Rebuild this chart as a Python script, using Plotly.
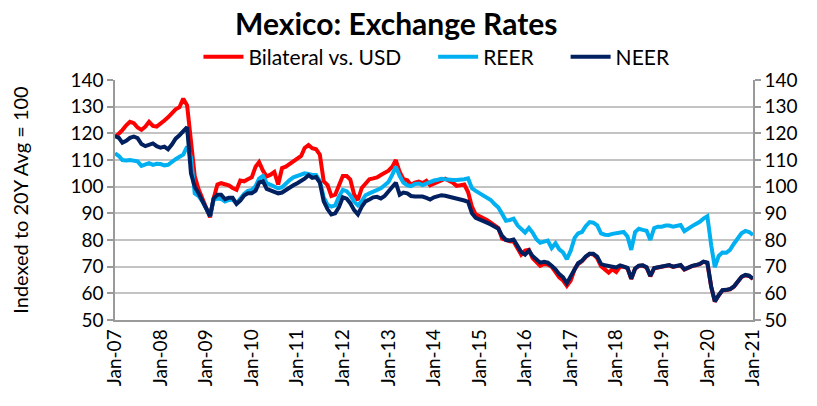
import pandas as pd
import plotly.graph_objects as go

# Monthly index levels, Jan-2007 .. Jan-2021 (20-year average = 100)
months = pd.date_range("2007-01-01", "2021-01-01", freq="MS")

bilateral_usd = [
    118.5, 119.8, 121.2, 123.0, 124.3, 123.8, 122.2, 121.3, 122.5, 124.3, 122.8, 122.5,   # 2007
    123.5, 124.8, 126.0, 127.5, 129.0, 129.8, 133.0, 130.5, 117.0, 104.0, 99.0, 95.5,     # 2008
    91.5, 88.5, 95.5, 100.8, 101.3, 101.0, 100.5, 99.5, 98.8, 102.3, 102.0, 102.8,        # 2009
    103.5, 107.5, 109.2, 106.0, 103.8, 104.5, 105.5, 100.8, 107.0, 107.5, 108.5, 109.5,   # 2010
    110.3, 111.5, 114.5, 115.6, 114.4, 114.0, 112.0, 102.0, 100.6, 96.5, 97.0, 101.0,     # 2011
    104.0, 104.0, 102.7, 97.0, 95.0, 99.5, 101.0, 102.8, 103.1, 103.5, 104.4, 105.0,      # 2012
    106.0, 107.5, 110.0, 105.5, 102.8, 102.4, 100.6, 101.5, 101.9, 101.3, 102.2, 100.5,   # 2013
    101.2, 101.9, 102.5, 103.0, 102.2, 101.5, 100.3, 100.5, 100.8, 98.0, 92.5, 89.6,      # 2014
    89.0, 88.3, 87.5, 86.5, 85.5, 84.5, 80.5, 79.8, 79.5, 79.4, 76.5, 74.5,               # 2015
    76.0, 76.3, 73.2, 71.8, 70.3, 71.0, 70.8, 70.0, 68.2, 66.0, 64.8, 62.8,               # 2016
    64.8, 69.0, 71.0, 72.0, 73.6, 74.8, 74.6, 73.2, 70.2, 68.8, 67.8, 69.0,               # 2017
    68.0, 70.0, 70.0, 69.4, 65.4, 69.2, 70.3, 70.4, 69.7, 66.4, 69.4, 69.7,               # 2018
    69.9, 70.2, 70.5, 69.9, 70.2, 70.5, 68.9, 69.7, 70.2, 70.5, 70.9, 71.8,               # 2019
    71.4, 62.4, 56.9, 59.2, 61.1, 61.2, 61.5, 62.5, 64.3, 66.1, 66.8, 66.5,               # 2020
    65.4,                                                                                 # 2021
]

reer = [
    112.5, 111.5, 110.0, 109.8, 110.0, 109.8, 109.5, 107.8, 108.3, 108.8, 108.2, 108.6,   # 2007
    108.5, 108.0, 108.2, 109.5, 110.3, 111.2, 112.0, 115.0, 111.0, 97.5, 96.5, 94.5,      # 2008
    91.5, 89.0, 95.0, 95.6, 95.4, 94.4, 95.0, 95.2, 93.8, 95.8, 97.3, 98.4,               # 2009
    98.8, 100.2, 103.0, 104.0, 101.3, 100.7, 100.0, 99.4, 99.8, 101.3, 102.5, 103.5,      # 2010
    104.0, 104.6, 105.0, 104.8, 104.4, 104.4, 102.0, 96.0, 93.2, 92.5, 93.0, 96.3,        # 2011
    98.8, 98.3, 96.8, 94.4, 93.0, 94.6, 96.8, 97.5, 98.2, 98.8, 99.4, 100.5,              # 2012
    101.8, 104.5, 107.5, 104.0, 101.5, 100.5, 100.2, 101.0, 101.2, 100.6, 101.2, 101.9,   # 2013
    102.3, 102.6, 103.0, 102.8, 102.5, 102.5, 102.5, 102.5, 102.8, 103.1, 99.4, 98.4,     # 2014
    97.5, 96.8, 96.0, 95.0, 93.5, 92.2, 89.8, 87.2, 87.5, 88.0, 85.5, 84.0,               # 2015
    82.8, 84.5, 82.8, 80.3, 79.0, 79.4, 79.8, 77.0, 78.8, 76.5, 75.3, 72.8,               # 2016
    76.0, 80.8, 82.5, 83.0, 85.2, 86.7, 86.5, 85.5, 82.5, 82.0, 81.9, 82.3,               # 2017
    82.6, 83.1, 83.0, 81.3, 76.3, 83.0, 84.2, 83.8, 83.5, 80.0, 84.5, 85.0,               # 2018
    85.0, 85.4, 85.4, 85.0, 85.4, 85.6, 83.3, 84.4, 85.2, 86.0, 86.8, 88.0,               # 2019
    88.9, 78.0, 69.8, 74.0, 75.3, 75.2, 76.3, 78.6, 80.8, 82.5, 83.4, 83.0,               # 2020
    81.9,                                                                                 # 2021
]

neer = [
    119.0, 118.3, 116.5, 117.2, 118.3, 118.8, 118.2, 116.0, 115.2, 115.8, 116.2, 115.2,   # 2007
    114.6, 115.0, 114.0, 115.8, 118.0, 119.3, 121.0, 122.3, 105.0, 100.0, 97.5, 94.5,     # 2008
    91.5, 89.0, 95.5, 97.0, 97.0, 95.3, 95.8, 95.8, 93.5, 94.8, 96.7, 97.5,               # 2009
    97.5, 98.5, 101.5, 102.0, 99.2, 98.5, 98.0, 97.5, 97.8, 98.8, 99.6, 100.5,            # 2010
    101.3, 102.0, 103.0, 104.3, 103.3, 103.6, 101.5, 94.5, 91.5, 89.6, 90.0, 92.3,        # 2011
    96.0, 95.5, 93.8, 91.2, 89.6, 92.5, 94.5, 95.2, 96.0, 96.2, 95.6, 96.5,               # 2012
    98.2, 100.0, 101.5, 97.0, 97.8, 97.5, 96.5, 96.3, 96.3, 96.3, 95.8, 95.2,             # 2013
    96.0, 96.5, 96.8, 96.6, 96.3, 96.0, 95.6, 95.2, 94.8, 94.3, 90.0, 88.3,               # 2014
    87.8, 87.0, 86.5, 85.8, 85.0, 84.2, 81.5, 80.0, 79.8, 80.2, 77.8, 75.5,               # 2015
    74.5, 76.0, 74.0, 72.5, 71.5, 71.8, 71.5, 70.3, 69.0, 67.2, 66.0, 63.8,               # 2016
    66.5, 69.5, 71.3, 72.2, 73.8, 74.8, 74.8, 73.8, 71.0, 70.5, 70.3, 70.0,               # 2017
    69.7, 70.5, 70.2, 69.6, 65.5, 69.3, 70.4, 70.5, 69.8, 66.5, 69.5, 69.8,               # 2018
    70.0, 70.3, 70.6, 70.0, 70.3, 70.6, 69.0, 69.8, 70.3, 70.6, 71.0, 71.9,               # 2019
    71.5, 62.5, 57.0, 59.3, 61.2, 61.3, 61.6, 62.6, 64.4, 66.2, 66.9, 66.6,               # 2020
    65.5,                                                                                 # 2021
]

y_ticks = [50, 60, 70, 80, 90, 100, 110, 120, 130, 140]
x_ticks = pd.date_range("2007-01-01", "2021-01-01", freq="YS")
x_tick_labels = [d.strftime("%b-%y") for d in x_ticks]

FONT = "Lato"
GRID = "#c3c3c3"
AXIS = "#9a9a9a"
PAD = "\u00a0" * 5  # extra room between legend entries

fig = go.Figure()
series = [
    ("Bilateral vs. USD", bilateral_usd, "#ff0000"),
    ("REER", reer, "#00b0f0"),
    ("NEER", neer, "#002060"),
]
for name, values, color in series:
    fig.add_trace(go.Scatter(
        x=months, y=values, name=name + PAD, mode="lines",
        line=dict(color=color, width=4),
    ))

# invisible companion trace so the mirrored right-hand axis is drawn
fig.add_trace(go.Scatter(
    x=[months[0]], y=[100], yaxis="y2", mode="lines",
    line=dict(width=0), showlegend=False, hoverinfo="skip",
))

yaxis_common = dict(
    range=[50, 140], tickvals=y_ticks, ticks="outside", ticklen=6,
    tickcolor=AXIS, tickwidth=1.5, showline=True, linecolor=AXIS, linewidth=1.5,
    tickfont=dict(family=FONT, size=19, color="#000000"), zeroline=False,
)

fig.update_layout(
    width=817, height=406,
    margin=dict(l=115, r=64, t=80, b=86),
    paper_bgcolor="white", plot_bgcolor="white",
    font=dict(family=FONT, color="#000000"),
    title=dict(
        text="<b>Mexico: Exchange Rates</b>",
        x=0.485, xanchor="center", y=0.94, yanchor="middle",
        font=dict(family=FONT, size=30, color="#000000"),
    ),
    legend=dict(
        orientation="h", x=0.525, xanchor="center", y=1.095, yanchor="middle",
        font=dict(family=FONT, size=21), bgcolor="rgba(0,0,0,0)",
        itemwidth=40, tracegroupgap=0,
    ),
    xaxis=dict(
        type="date", range=[months[0], months[-1]],
        tickvals=list(x_ticks), ticktext=x_tick_labels, tickangle=-90,
        tickfont=dict(family=FONT, size=19), showgrid=False,
        showline=True, linecolor=AXIS, linewidth=1.5, ticks="",
    ),
    yaxis=dict(
        **yaxis_common, showgrid=True, gridcolor=GRID, gridwidth=1.5,
        title=dict(text="Indexed to 20Y Avg = 100",
                   font=dict(family=FONT, size=20), standoff=36),
    ),
    yaxis2=dict(
        **yaxis_common, overlaying="y", side="right", showgrid=False,
    ),
    showlegend=True,
)

fig.write_html("out.html")
